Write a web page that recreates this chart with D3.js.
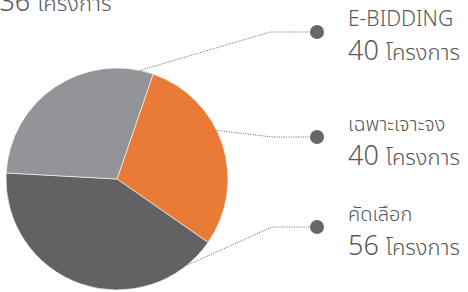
<!DOCTYPE html>
<html><head><meta charset="utf-8">
<script src="https://cdn.jsdelivr.net/npm/d3@7"></script>
<style>
html,body{margin:0;padding:0;background:#fff;}
svg{display:block;}
text{font-family:"Noto Sans Thai","Noto Sans",Roboto,sans-serif;fill:#58585a;}
</style></head>
<body>
<svg id="c" width="468" height="292"></svg>
<script>
const categories = ["เฉพาะเจาะจง", "คัดเลือก", "E-BIDDING"];
const values = [40, 56, 40];
const colors = ["#E97B37", "#626265", "#939497"];
const unit = "โครงการ";
const totalLabel = "136 โครงการ";
// label order (top to bottom) on the right
const labelOrder = ["E-BIDDING", "เฉพาะเจาะจง", "คัดเลือก"];

const svg = d3.select("#c");
const cx = 117, cy = 179, r = 111;
const deg = Math.PI / 180;

const pie = d3.pie().sort(null).value(d => d.v).startAngle(19 * deg).endAngle(379 * deg);
const data = categories.map((c, i) => ({c, v: values[i], col: colors[i]}));
const arcs = pie(data);
const arc = d3.arc().innerRadius(0).outerRadius(r);

const g = svg.append("g").attr("transform", `translate(${cx},${cy})`);
g.selectAll("path").data(arcs).join("path")
  .attr("d", arc).attr("fill", d => d.data.col)
  .attr("stroke", "#fff").attr("stroke-width", 0.6);

// leader lines: edge angle, elbow, dot
const leaders = {
  "E-BIDDING": {a: 12, elbow: [270, 32], y: 32},
  "เฉพาะเจาะจง": {a: 64, elbow: [272, 137], y: 137},
  "คัดเลือก": {a: 141, elbow: [272, 227], y: 227}
};
const dotX = 317, textX = 348;
labelOrder.forEach(name => {
  const L = leaders[name];
  const i = categories.indexOf(name);
  const px = cx + r * Math.sin(L.a * deg), py = cy - r * Math.cos(L.a * deg);
  svg.append("polyline")
    .attr("points", `${px},${py} ${L.elbow[0]},${L.elbow[1]} ${dotX},${L.y}`)
    .attr("fill", "none").attr("stroke", "#7a7a7c").attr("stroke-width", 1)
    .attr("stroke-dasharray", "1.2,1.2");
  svg.append("circle").attr("cx", dotX).attr("cy", L.y).attr("r", 7).attr("fill", "#67676a");
  svg.append("text").attr("x", textX).attr("y", L.y - 6)
    .attr("font-size", name === "E-BIDDING" ? 21 : 20).attr("font-weight", 300).text(name);
  const t = svg.append("text").attr("x", textX).attr("y", L.y + 28).attr("font-weight", 300);
  t.append("tspan").attr("font-size", 27).text(values[i] + " ");
  t.append("tspan").attr("font-size", 22).text(unit);
});

// total (cut at top-left, as in the reference)
const tt = svg.append("text").attr("x", -16).attr("y", 11).attr("font-weight", 300);
tt.append("tspan").attr("font-size", 27).text(totalLabel.split(" ")[0] + " ");
tt.append("tspan").attr("font-size", 22).text(totalLabel.split(" ")[1]);
</script>
</body></html>
